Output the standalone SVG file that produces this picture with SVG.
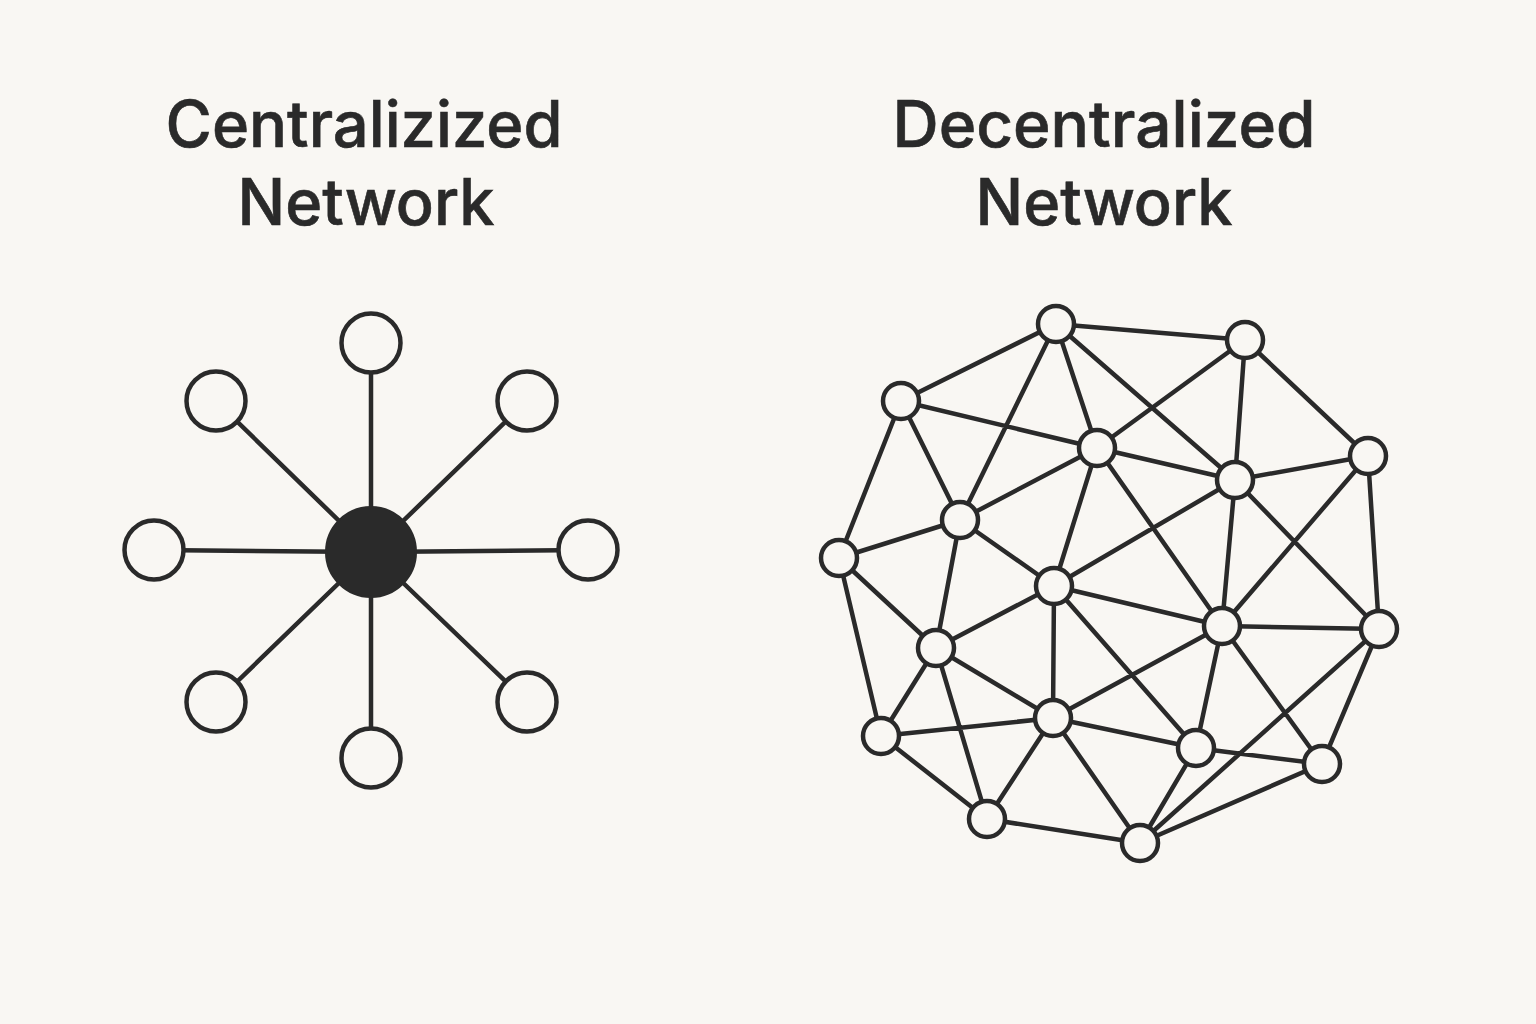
<svg xmlns="http://www.w3.org/2000/svg" width="1536" height="1024" viewBox="0 0 1536 1024">
<style>
.bg{fill:#f9f7f3}
.title{font-family:Inter,"Liberation Sans",sans-serif;font-weight:500;font-size:64px;fill:#2a2a2a;stroke:#2a2a2a;stroke-width:0.6;text-anchor:middle}
.edge{stroke:#2a2a2a;stroke-width:4.5;stroke-linecap:round;fill:none}
.leaf{fill:#f9f7f3;stroke:#2a2a2a;stroke-width:4.5}
.hub{fill:#2a2a2a;stroke:#2a2a2a;stroke-width:2}
.dn{fill:#f9f7f3;stroke:#2a2a2a;stroke-width:4.5}
</style>
<rect class="bg" x="0" y="0" width="1536" height="1024"/>

<g id="title-centralized">
<text class="title" x="364" y="147" textLength="397" lengthAdjust="spacingAndGlyphs">Centralizized</text>
<text class="title" x="366" y="225" textLength="257" lengthAdjust="spacingAndGlyphs">Network</text>
</g>
<g id="title-decentralized">
<text class="title" x="1104" y="147" textLength="423" lengthAdjust="spacingAndGlyphs">Decentralized</text>
<text class="title" x="1104" y="225" textLength="257" lengthAdjust="spacingAndGlyphs">Network</text>
</g>

<g id="central-connectors">
<line class="edge" x1="371" y1="552" x2="371" y2="343"/>
<line class="edge" x1="371" y1="552" x2="216" y2="401"/>
<line class="edge" x1="371" y1="552" x2="527" y2="401"/>
<line class="edge" x1="371" y1="552" x2="154" y2="550"/>
<line class="edge" x1="371" y1="552" x2="588" y2="550"/>
<line class="edge" x1="371" y1="552" x2="216" y2="702"/>
<line class="edge" x1="371" y1="552" x2="527" y2="702"/>
<line class="edge" x1="371" y1="552" x2="371" y2="758"/>
</g>
<g id="c-hub"><circle class="hub" cx="371" cy="552" r="45"/></g>
<g id="c-top"><circle class="leaf" cx="371" cy="343" r="29.5"/></g>
<g id="c-ul"><circle class="leaf" cx="216" cy="401" r="29.5"/></g>
<g id="c-ur"><circle class="leaf" cx="527" cy="401" r="29.5"/></g>
<g id="c-l"><circle class="leaf" cx="154" cy="550" r="29.5"/></g>
<g id="c-r"><circle class="leaf" cx="588" cy="550" r="29.5"/></g>
<g id="c-ll"><circle class="leaf" cx="216" cy="702" r="29.5"/></g>
<g id="c-lr"><circle class="leaf" cx="527" cy="702" r="29.5"/></g>
<g id="c-b"><circle class="leaf" cx="371" cy="758" r="29.5"/></g>

<g id="decentral-connectors">
<path class="edge" d="
M1056 324L1245 340 M1056 324L901 401 M1056 324L1097 448 M1056 324L1235 480 M1056 324L960 520
M1245 340L1097 448 M1245 340L1235 480 M1245 340L1368 456
M901 401L1097 448 M901 401L960 520 M901 401L839 558
M1097 448L1235 480 M1097 448L960 520 M1097 448L1054 586 M1097 448L1222 626
M1235 480L1368 456 M1235 480L1054 586 M1235 480L1222 626 M1235 480L1379 629
M1368 456L1222 626 M1368 456L1379 629
M960 520L839 558 M960 520L1054 586 M960 520L936 648
M839 558L936 648 M839 558L881 736
M1054 586L1222 626 M1054 586L936 648 M1054 586L1053 718 M1054 586L1196 748
M1222 626L1379 629 M1222 626L1053 718 M1222 626L1196 748 M1222 626L1322 764
M1379 629L1322 764 M1379 629L1140 843
M936 648L1053 718 M936 648L881 736 M936 648L987 819
M1053 718L881 736 M1053 718L1196 748 M1053 718L987 819 M1053 718L1140 843
M881 736L987 819
M1196 748L1322 764 M1196 748L1140 843
M1322 764L1140 843
M987 819L1140 843"/>
</g>
<g id="d-a"><circle class="dn" cx="1056" cy="324" r="18"/></g>
<g id="d-b"><circle class="dn" cx="1245" cy="340" r="18"/></g>
<g id="d-c"><circle class="dn" cx="901" cy="401" r="18"/></g>
<g id="d-d"><circle class="dn" cx="1097" cy="448" r="18"/></g>
<g id="d-e"><circle class="dn" cx="1235" cy="480" r="18"/></g>
<g id="d-f"><circle class="dn" cx="1368" cy="456" r="18"/></g>
<g id="d-g"><circle class="dn" cx="960" cy="520" r="18"/></g>
<g id="d-h"><circle class="dn" cx="839" cy="558" r="18"/></g>
<g id="d-i"><circle class="dn" cx="1054" cy="586" r="18"/></g>
<g id="d-j"><circle class="dn" cx="1222" cy="626" r="18"/></g>
<g id="d-k"><circle class="dn" cx="1379" cy="629" r="18"/></g>
<g id="d-l"><circle class="dn" cx="936" cy="648" r="18"/></g>
<g id="d-m"><circle class="dn" cx="1053" cy="718" r="18"/></g>
<g id="d-n"><circle class="dn" cx="881" cy="736" r="18"/></g>
<g id="d-o"><circle class="dn" cx="1196" cy="748" r="18"/></g>
<g id="d-p"><circle class="dn" cx="1322" cy="764" r="18"/></g>
<g id="d-q"><circle class="dn" cx="987" cy="819" r="18"/></g>
<g id="d-r"><circle class="dn" cx="1140" cy="843" r="18"/></g>
</svg>
